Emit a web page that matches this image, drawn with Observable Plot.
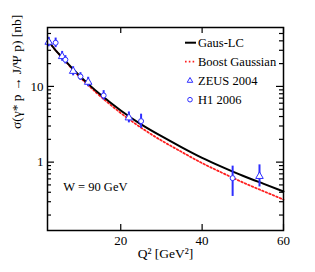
<!DOCTYPE html>
<html>
<head>
<meta charset="utf-8">
<script src="https://cdn.jsdelivr.net/npm/d3@7"></script>
<script src="https://cdn.jsdelivr.net/npm/@observablehq/plot@0.6"></script>
<style>
  html, body { margin: 0; padding: 0; background: white; }
  #chart { width: 315px; height: 272px; }
</style>
</head>
<body>
<div id="chart"></div>
<script>
// Model curves
const curveQ2 = [2.5, 4, 6, 8, 10, 12, 15, 20, 25, 30, 35, 40, 45, 50, 55, 60];
const gausLC = [38, 30, 23, 17.5, 13.6, 10.8, 7.8, 4.8, 3.15, 2.2, 1.57, 1.14, 0.86, 0.66, 0.52, 0.41];
const boostGaussian = [38, 30, 22.7, 17.2, 13.2, 10.4, 7.4, 4.45, 2.85, 1.93, 1.36, 0.97, 0.72, 0.54, 0.415, 0.32];

// ZEUS 2004 (triangles)
const zeusQ2 = [2.3, 5.6, 8.3, 12.0, 22.0, 54.1];
const zeusSigma = [38.5, 24.9, 15.9, 11.4, 3.86, 0.65];
const zeusLow = [33.4, 21.5, 13.8, 9.9, 3.3, 0.47];
const zeusHigh = [44.5, 29, 18.2, 13.2, 4.6, 0.92];

// H1 2006 (circles)
const h1Q2 = [4.0, 6.4, 10.1, 15.8, 25.0, 47.5];
const h1Sigma = [37.7, 22.5, 13.5, 7.6, 3.48, 0.615];
const h1Low = [32.5, 19.8, 12.0, 6.6, 2.8, 0.352];
const h1High = [43.5, 25.5, 15.2, 8.8, 4.3, 0.885];

// Axes
const xTicks = [20, 40, 60];
const yMajorTicks = [1, 10];
const yMinorTicks = [0.2, 0.3, 0.4, 0.5, 0.6, 0.7, 0.8, 0.9, 2, 3, 4, 5, 6, 7, 8, 9, 20, 30, 40, 50];
const xLabel = "Q² [GeV²]";
const yLabel = "σ(γ* p → J/Ψ p) [nb]";
const annotation = "W = 90 GeV";

const legendNames = ["Gaus-LC", "Boost Gaussian", "ZEUS 2004", "H1 2006"];

const W = 315, H = 272;
const mL = 47, mR = 32, mT = 27, mB = 42;
const iw = W - mL - mR, ih = H - mT - mB;
const blue = "#2e2eff", red = "#ff1e1e";
const font = "'Liberation Serif', 'Times New Roman', serif";

const idx = a => a.map((_, i) => i);

const plot = Plot.plot({
  width: W, height: H,
  marginLeft: mL, marginRight: mR, marginTop: mT, marginBottom: mB,
  style: {fontFamily: font, fontSize: "13px", color: "black", background: "white"},
  x: {type: "linear", domain: [2, 60]},
  y: {type: "log", domain: [0.125, 60]},
  marks: [
    // tick marks (inward, mirrored)
    Plot.ruleY(yMajorTicks, {y: d => d, insetRight: iw - 7, stroke: "black", strokeWidth: 1.2}),
    Plot.ruleY(yMajorTicks, {y: d => d, insetLeft: iw - 7, stroke: "black", strokeWidth: 1.2}),
    Plot.ruleY(yMinorTicks, {y: d => d, insetRight: iw - 4, stroke: "black", strokeWidth: 1.2}),
    Plot.ruleY(yMinorTicks, {y: d => d, insetLeft: iw - 4, stroke: "black", strokeWidth: 1.2}),
    Plot.ruleX(xTicks, {x: d => d, insetTop: ih - 6, stroke: "black", strokeWidth: 1.2}),
    Plot.ruleX(xTicks, {x: d => d, insetBottom: ih - 6, stroke: "black", strokeWidth: 1.2}),
    // tick labels
    Plot.axisX(xTicks, {tickSize: 0, tickPadding: 5, label: null, fontSize: 13, tickFormat: d => String(d)}),
    Plot.axisY(yMajorTicks, {tickSize: 0, tickPadding: 4, label: null, fontSize: 13, tickFormat: d => String(d)}),
    // curves
    Plot.line(idx(curveQ2), {x: i => curveQ2[i], y: i => boostGaussian[i], stroke: red, strokeWidth: 1.8, strokeDasharray: "1.6,2.2", curve: "natural"}),
    Plot.line(idx(curveQ2), {x: i => curveQ2[i], y: i => gausLC[i], stroke: "black", strokeWidth: 2, curve: "natural"}),
    // error bars
    Plot.ruleX(idx(zeusQ2), {x: i => zeusQ2[i], y1: i => zeusLow[i], y2: i => zeusHigh[i], stroke: blue, strokeWidth: 2}),
    Plot.ruleX(idx(h1Q2), {x: i => h1Q2[i], y1: i => h1Low[i], y2: i => h1High[i], stroke: blue, strokeWidth: 2}),
    // points
    Plot.dot(idx(zeusQ2), {x: i => zeusQ2[i], y: i => zeusSigma[i], symbol: "triangle", r: 2.8, stroke: blue, fill: "white", strokeWidth: 1}),
    Plot.dot(idx(h1Q2), {x: i => h1Q2[i], y: i => h1Sigma[i], symbol: "circle", r: 2.5, stroke: blue, fill: "white", strokeWidth: 1}),
    // annotation
    Plot.text([annotation], {x: 5.9, y: 0.475, text: d => d, textAnchor: "start", fontSize: 12.5, fill: "black"}),
    // axis labels
    Plot.text([xLabel], {frameAnchor: "bottom", dy: 27, text: d => d, fontSize: 13.5, fill: "black"}),
    Plot.text([yLabel], {frameAnchor: "left", dx: -31, rotate: -90, text: d => d, fontSize: 13.5, fill: "black"}),
    Plot.frame({stroke: "black", strokeWidth: 1.5})
  ]
});

// legend inside the plot
const svg = d3.select(plot);
const lg = svg.append("g").attr("font-family", font).attr("font-size", 12.5).attr("text-anchor", "start");
legendNames.forEach((name, i) => {
  const cy = 42.7 + 19 * i;
  const g = lg.append("g");
  if (i === 0) g.append("line").attr("x1", 185).attr("x2", 196).attr("y1", cy).attr("y2", cy).attr("stroke", "black").attr("stroke-width", 2);
  if (i === 1) g.append("line").attr("x1", 185).attr("x2", 196).attr("y1", cy).attr("y2", cy).attr("stroke", red).attr("stroke-width", 1.8).attr("stroke-dasharray", "1.6,2.2");
  if (i === 2) g.append("path").attr("d", d3.symbol(d3.symbolTriangle2, 22)()).attr("transform", `translate(190,${cy})`).attr("fill", "white").attr("stroke", blue);
  if (i === 3) g.append("circle").attr("cx", 190).attr("cy", cy).attr("r", 2.3).attr("fill", "white").attr("stroke", blue);
  g.append("text").attr("x", 198).attr("y", cy).attr("dy", "0.35em").attr("text-anchor", "start").attr("fill", "black").text(name);
});

document.getElementById("chart").appendChild(plot);
</script>
</body>
</html>
